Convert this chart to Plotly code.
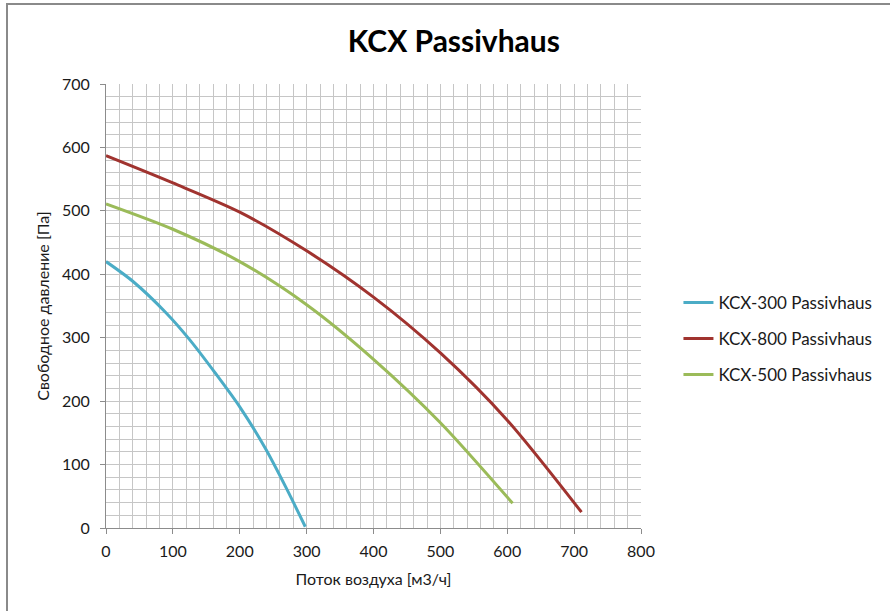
import plotly.graph_objects as go

# Fan curves: air flow [m3/h] vs. available static pressure [Pa]
flow_300 = [0, 40, 90, 125, 165, 200, 238, 270, 298]
pres_300 = [420, 389, 339, 297, 242, 191, 126, 62, 2]

flow_800 = [0, 100, 200, 300, 400, 500, 600, 711]
pres_800 = [587, 544, 498, 437, 364, 276, 170, 25]

flow_500 = [0, 100, 200, 300, 400, 500, 608]
pres_500 = [511, 471, 420, 352, 266, 166, 39]

series = [
    ("KCX-300 Passivhaus", flow_300, pres_300, "#4bacc6"),
    ("KCX-800 Passivhaus", flow_800, pres_800, "#a0332f"),
    ("KCX-500 Passivhaus", flow_500, pres_500, "#9bbb59"),
]

FONT = "Lato"
GRID = "#c6c6c6"
AXIS = "#8c8c8c"

fig = go.Figure()
for name, x, y, color in series:
    fig.add_trace(go.Scatter(
        x=x, y=y, name=name, mode="lines", legendgroup=name,
        line=dict(color=color, width=3, shape="spline", smoothing=0.8),
    ))

fig.update_layout(
    width=890, height=611,
    margin=dict(l=106, r=249, t=84, b=83),
    paper_bgcolor="white", plot_bgcolor="white",
    font=dict(family=FONT, size=16, color="#1a1a1a"),
    title=dict(
        text="<b>KCX Passivhaus</b>", x=0.51, xanchor="center",
        y=0.932, yanchor="middle",
        font=dict(family=FONT, size=30, color="black"),
    ),
    legend=dict(
        x=1.07, xanchor="left", y=0.426, yanchor="middle",
        font=dict(family=FONT, size=17, color="#1a1a1a"),
        tracegroupgap=11, itemwidth=30, bgcolor="rgba(0,0,0,0)",
    ),
    showlegend=True,
)

fig.update_xaxes(
    range=[0, 800], dtick=100, tick0=0,
    showgrid=True, gridcolor=GRID, gridwidth=1,
    minor=dict(dtick=20, showgrid=True, gridcolor=GRID, gridwidth=1),
    showline=True, linecolor=AXIS, linewidth=1,
    ticks="outside", ticklen=5, tickcolor=AXIS, ticklabelstandoff=4,
    zeroline=False, fixedrange=True,
    title=dict(text="Поток воздуха [м3/ч]", standoff=14,
               font=dict(family=FONT, size=16)),
)
fig.update_yaxes(
    range=[0, 700], dtick=100, tick0=0,
    showgrid=True, gridcolor=GRID, gridwidth=1,
    minor=dict(dtick=20, showgrid=True, gridcolor=GRID, gridwidth=1),
    showline=True, linecolor=AXIS, linewidth=1,
    ticks="outside", ticklen=5, tickcolor=AXIS, ticklabelstandoff=7,
    zeroline=False, fixedrange=True,
    title=dict(text="Свободное давление [Па]", standoff=8,
               font=dict(family=FONT, size=16)),
)

# Chart frame (runs off the right and bottom edges)
fig.add_shape(
    type="rect", xref="paper", yref="paper",
    x0=(7 - 106) / 535, x1=(900 - 106) / 535,
    y0=(528 - 620) / 444, y1=(528 - 4) / 444,
    line=dict(color="#8a8a8a", width=2), fillcolor="rgba(0,0,0,0)",
    layer="below",
)

fig.write_html("out.html")
